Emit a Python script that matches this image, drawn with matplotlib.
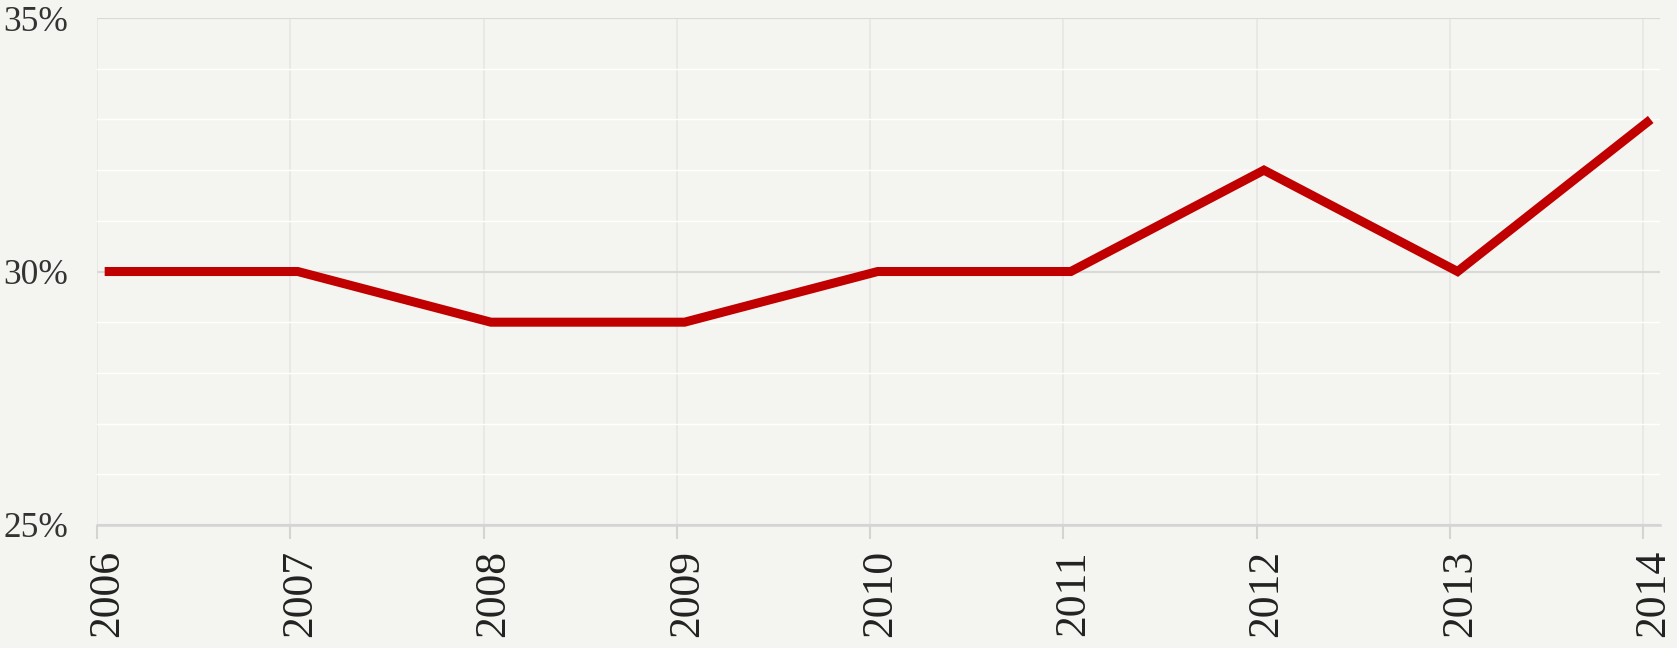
import numpy as np
import pandas as pd
import matplotlib
matplotlib.use('Agg')
import matplotlib.pyplot as plt
import matplotlib.dates as mdates
import matplotlib.transforms as mtransforms
from matplotlib.ticker import FixedLocator, MultipleLocator

# data (points sit a little after Jan 1)
dates = pd.to_datetime(['2006-01-15', '2007-01-15', '2008-01-15', '2009-01-15', '2010-01-15',
                        '2011-01-15', '2012-01-15', '2013-01-15', '2014-01-15'])
share = [30, 30, 29, 29, 30, 30, 32, 30, 33]
years = list(range(2006, 2015))
yticks = [25, 30, 35]

bg = '#f4f4f0'
plt.rcParams['font.family'] = ['Liberation Serif', 'DejaVu Serif']

fig = plt.figure(figsize=(16.77, 6.48), dpi=100, facecolor=bg)
ax = fig.add_axes([0.058, 0.19, 0.932, 0.782], facecolor=bg)

ax.plot(dates, share, color='#c00000', lw=6.5, solid_capstyle='butt',
        solid_joinstyle='miter', zorder=3)

ax.set_xlim(pd.Timestamp('2006-01-01'), pd.Timestamp('2014-02-02'))
ax.set_ylim(25, 35)

year_ticks = [mdates.date2num(pd.Timestamp(f'{y}-01-01')) for y in years]
ax.xaxis.set_major_locator(FixedLocator(year_ticks))
ax.set_xticklabels([str(y) for y in years], rotation=90, fontsize=31.5, color='#222222')
ax.tick_params(axis='x', length=10, width=1.5, color='#d4d4d4', pad=8)
# labels sit a bit right of their ticks in the original
shift = mtransforms.ScaledTranslation(0.10, 0, fig.dpi_scale_trans)
for lab in ax.get_xticklabels():
    lab.set_transform(lab.get_transform() + shift)

ax.set_yticks(yticks)
ax.set_yticklabels([f'{v}%' for v in yticks], fontsize=25.5, color='#333333')
ax.yaxis.set_minor_locator(MultipleLocator(1))
ax.tick_params(axis='y', which='both', length=0, pad=21)

ax.grid(axis='y', which='minor', color='white', lw=1.0, zorder=0)
ax.grid(axis='y', which='major', color='#d9d9d9', lw=1.5, zorder=1)
ax.grid(axis='x', which='major', color='#e6e6e6', lw=1.2, zorder=1)

for side in ['left', 'right', 'top']:
    ax.spines[side].set_visible(False)
ax.spines['bottom'].set_color('#d4d4d4')
ax.spines['bottom'].set_linewidth(1.8)

fig.savefig('out.png', dpi=100, facecolor=bg)
